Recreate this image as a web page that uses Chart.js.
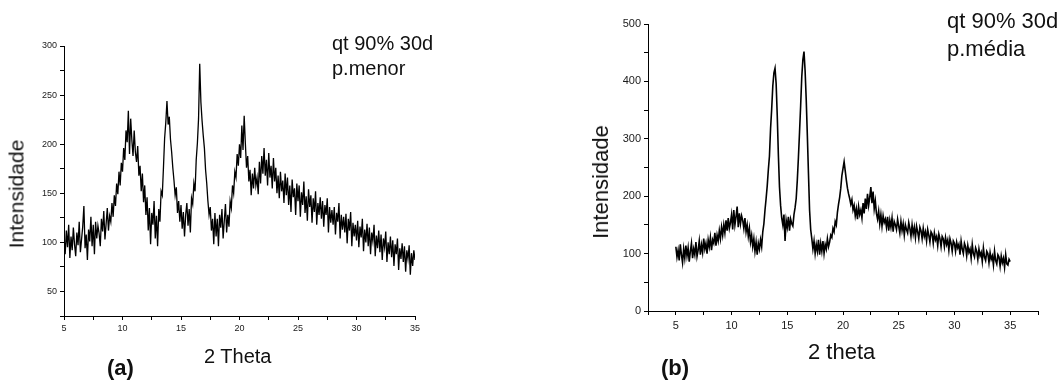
<!DOCTYPE html>
<html>
<head>
<meta charset="utf-8">
<script src="https://cdn.jsdelivr.net/npm/chart.js@4/dist/chart.umd.min.js"></script>
<style>
  html, body { margin: 0; padding: 0; background: #fff; }
  body { width: 1064px; height: 383px; position: relative; overflow: hidden; font-family: "Liberation Sans", Arial, sans-serif; color: #111; }
  canvas { position: absolute; top: 0; }
  .t { position: absolute; line-height: 1; white-space: nowrap; }
  .rot { position: absolute; line-height: 1; white-space: nowrap; transform: translate(-50%, -50%) rotate(-90deg); }
</style>
</head>
<body>
<canvas id="cA" width="530" height="383" style="left:0px"></canvas>
<canvas id="cB" width="534" height="383" style="left:530px"></canvas>

<div class="rot" style="left:16px; top:194px; font-size:21px;">Intensidade</div>
<div class="t" style="left:204px; top:346px; font-size:20px;">2 Theta</div>
<div class="t" style="left:107px; top:357px; font-size:22px; font-weight:bold;">(a)</div>
<div class="t" style="left:332px; top:33px; font-size:20px;">qt 90% 30d</div>
<div class="t" style="left:332px; top:58px; font-size:20px;">p.menor</div>

<div class="rot" style="left:601px; top:182px; font-size:22px;">Intensidade</div>
<div class="t" style="left:808px; top:341px; font-size:22px;">2 theta</div>
<div class="t" style="left:661px; top:357px; font-size:22px; font-weight:bold;">(b)</div>
<div class="t" style="left:947px; top:10px; font-size:22px;">qt 90% 30d</div>
<div class="t" style="left:947px; top:38px; font-size:22px;">p.média</div>

<script>
// 2θ scan grid (degrees)
const twoTheta = [
  5,5.1,5.2,5.3,5.4,5.5,5.6,5.7,5.8,5.9,
  6,6.1,6.2,6.3,6.4,6.5,6.6,6.7,6.8,6.9,
  7,7.1,7.2,7.3,7.4,7.5,7.6,7.7,7.8,7.9,
  8,8.1,8.2,8.3,8.4,8.5,8.6,8.7,8.8,8.9,
  9,9.1,9.2,9.3,9.4,9.5,9.6,9.7,9.8,9.9,
  10,10.1,10.2,10.3,10.4,10.5,10.6,10.7,10.8,10.9,
  11,11.1,11.2,11.3,11.4,11.5,11.6,11.7,11.8,11.9,
  12,12.1,12.2,12.3,12.4,12.5,12.6,12.7,12.8,12.9,
  13,13.1,13.2,13.3,13.4,13.5,13.6,13.7,13.8,13.9,
  14,14.1,14.2,14.3,14.4,14.5,14.6,14.7,14.8,14.9,
  15,15.1,15.2,15.3,15.4,15.5,15.6,15.7,15.8,15.9,
  16,16.1,16.2,16.3,16.4,16.5,16.6,16.7,16.8,16.9,
  17,17.1,17.2,17.3,17.4,17.5,17.6,17.7,17.8,17.9,
  18,18.1,18.2,18.3,18.4,18.5,18.6,18.7,18.8,18.9,
  19,19.1,19.2,19.3,19.4,19.5,19.6,19.7,19.8,19.9,
  20,20.1,20.2,20.3,20.4,20.5,20.6,20.7,20.8,20.9,
  21,21.1,21.2,21.3,21.4,21.5,21.6,21.7,21.8,21.9,
  22,22.1,22.2,22.3,22.4,22.5,22.6,22.7,22.8,22.9,
  23,23.1,23.2,23.3,23.4,23.5,23.6,23.7,23.8,23.9,
  24,24.1,24.2,24.3,24.4,24.5,24.6,24.7,24.8,24.9,
  25,25.1,25.2,25.3,25.4,25.5,25.6,25.7,25.8,25.9,
  26,26.1,26.2,26.3,26.4,26.5,26.6,26.7,26.8,26.9,
  27,27.1,27.2,27.3,27.4,27.5,27.6,27.7,27.8,27.9,
  28,28.1,28.2,28.3,28.4,28.5,28.6,28.7,28.8,28.9,
  29,29.1,29.2,29.3,29.4,29.5,29.6,29.7,29.8,29.9,
  30,30.1,30.2,30.3,30.4,30.5,30.6,30.7,30.8,30.9,
  31,31.1,31.2,31.3,31.4,31.5,31.6,31.7,31.8,31.9,
  32,32.1,32.2,32.3,32.4,32.5,32.6,32.7,32.8,32.9,
  33,33.1,33.2,33.3,33.4,33.5,33.6,33.7,33.8,33.9,
  34,34.1,34.2,34.3,34.4,34.5,34.6,34.7,34.8,34.9,
  35
];

// (a) qt 90% 30d p.menor
const intensityA = [
  104,88,112,95,118,84,106,92,115,98,
  86,110,97,121,90,103,116,137,94,108,
  82,113,101,126,96,118,88,121,104,117,
  109,96,124,111,132,103,119,135,112,127,
  121,140,126,148,137,160,149,172,158,181,
  172,196,184,214,202,234,190,226,204,188,
  214,192,182,198,168,178,152,170,141,158,
  128,146,112,135,98,130,118,142,104,127,
  96,134,121,152,148,176,206,222,244,220,
  228,205,192,176,163,148,156,130,142,121,
  138,114,131,106,128,140,117,134,110,145,
  139,160,152,184,201,226,282,243,224,209,
  196,174,160,142,128,136,112,124,98,130,
  106,124,96,128,115,134,104,122,139,110,
  128,116,142,135,158,150,172,166,190,178,
  200,186,219,194,229,201,176,188,162,174,
  148,170,155,176,158,166,149,182,160,188,
  170,196,168,184,158,191,166,178,155,186,
  162,176,150,168,145,172,152,163,140,170,
  148,166,138,158,131,164,146,155,128,160,
  142,158,126,151,138,162,130,147,122,154,
  136,148,120,145,131,152,118,140,128,146,
  124,142,116,138,128,145,110,136,120,133,
  118,136,108,130,121,140,104,128,113,126,
  110,129,99,124,112,131,96,120,106,118,
  102,122,95,116,105,124,91,113,100,119,
  96,115,88,110,101,118,86,107,94,112,
  90,108,82,104,95,111,80,100,88,106,
  85,102,76,98,88,104,72,94,83,99,
  80,96,70,92,83,97,67,89,76,92,
  82
];

// (b) qt 90% 30d p.média
const intensityB = [
  112,94,106,88,116,98,84,108,92,114,
  96,110,86,104,118,92,108,98,120,95,
  106,122,98,115,102,126,108,118,100,124,
  112,128,106,124,118,136,114,132,122,140,
  126,146,132,150,136,158,140,162,144,154,
  168,142,176,150,164,182,146,170,152,166,
  158,144,162,138,150,130,144,120,132,112,
  126,104,120,98,118,108,124,112,138,152,
  176,196,218,246,270,318,352,392,415,423,
  396,340,272,216,184,162,150,168,122,158,
  146,164,140,160,152,148,168,180,196,228,
  268,312,358,408,438,452,418,368,306,240,
  176,142,126,108,122,100,116,104,124,98,
  118,104,122,100,116,108,126,112,120,132,
  128,144,138,156,150,172,186,198,214,236,
  248,260,244,228,214,204,196,186,194,176,
  184,166,178,160,182,168,176,162,188,170,
  196,178,204,184,198,216,188,208,178,192,
  170,160,174,152,168,148,166,154,160,146,
  164,140,158,146,162,138,156,150,142,160,
  148,136,156,140,152,132,150,142,136,154,
  144,130,150,134,146,128,148,138,126,146,
  140,126,144,130,138,122,142,132,120,138,
  134,118,136,124,130,114,134,126,112,130,
  126,112,128,116,124,106,126,118,104,122,
  118,104,120,110,116,98,122,108,100,118,
  112,96,114,102,108,92,116,100,94,110,
  104,90,108,96,102,86,110,94,88,104,
  100,84,102,90,96,80,104,88,82,98,
  94,78,96,84,92,76,98,82,80,90,
  86
];

// axis tick settings
const xTicksA = { min: 5, max: 35, step: 2.5, labelEvery: 5 };
const yTicksA = { min: 25, max: 300, step: 25, labelEvery: 50 };
const xTicksB = { min: 2.5, max: 37.5, step: 2.5, labelEvery: 5 };
const yTicksB = { min: 0, max: 500, step: 50, labelEvery: 100 };

const FONT = '"Liberation Sans", Arial, sans-serif';

function toPoints(xs, ys) { return ys.map((y, i) => ({ x: xs[i], y: y })); }

function axis(t, fontSize, fit, pad) {
  return {
    type: 'linear',
    min: t.min, max: t.max,
    afterFit: fit,
    afterBuildTicks: (s) => { s.ticks = s.ticks.filter(k => k.value >= t.min - 1e-9 && k.value <= t.max + 1e-9); },
    ticks: {
      stepSize: t.step,
      autoSkip: false,
      maxRotation: 0,
      padding: pad,
      color: '#1a1a1a',
      font: { family: FONT, size: fontSize },
      callback: (v) => (Math.abs(v / t.labelEvery - Math.round(v / t.labelEvery)) < 1e-6 ? String(v) : '')
    },
    grid: { drawOnChartArea: false, drawTicks: true, tickLength: 4, color: '#000', lineWidth: 1 },
    border: { display: true, color: '#000', width: 1 }
  };
}

function makeChart(id, ys, xt, yt, pad, yWidth, xHeight, tickFont, xPad, yPad, lw) {
  return new Chart(document.getElementById(id), {
    type: 'line',
    data: {
      datasets: [{
        data: toPoints(twoTheta, ys),
        borderColor: '#000',
        borderWidth: lw,
        pointRadius: 0,
        tension: 0,
        fill: false
      }]
    },
    options: {
      responsive: false,
      animation: false,
      devicePixelRatio: 1,
      layout: { padding: pad },
      plugins: { legend: { display: false }, tooltip: { enabled: false } },
      scales: {
        x: axis(xt, tickFont, (s) => { s.height = xHeight; }, xPad),
        y: axis(yt, tickFont, (s) => { s.width = yWidth; }, yPad)
      }
    }
  });
}

makeChart('cA', intensityA, xTicksA, yTicksA, { top: 46, right: 115, bottom: 0, left: 0 }, 64, 67, 9, 3, 3, 1.3);
makeChart('cB', intensityB, xTicksB, yTicksB, { top: 24, right: 26, bottom: 0, left: 0 }, 118, 72, 11, 4, 3, 1.6);
</script>
</body>
</html>
